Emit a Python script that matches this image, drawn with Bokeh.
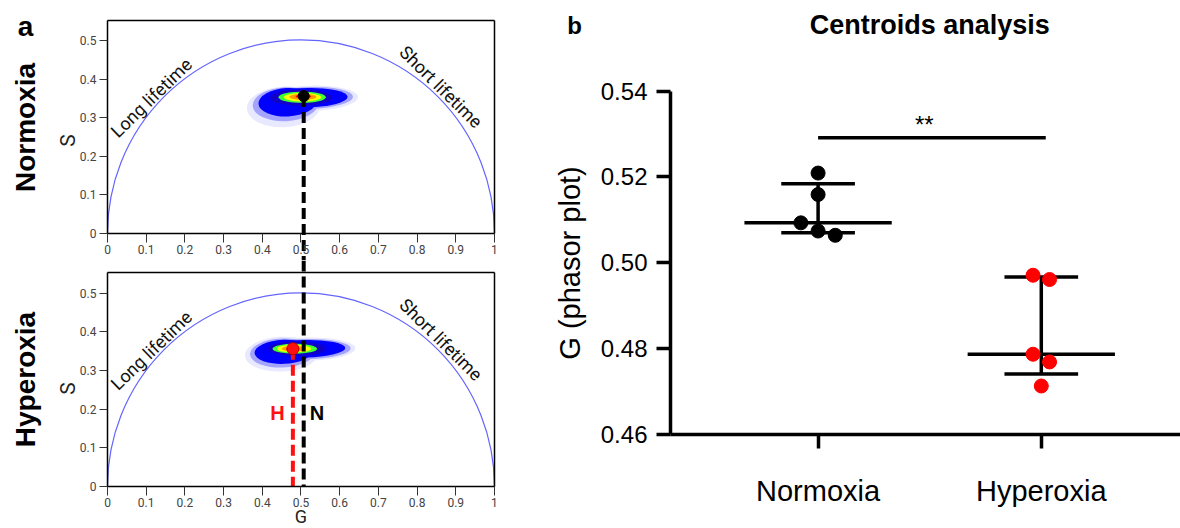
import math
from bokeh.plotting import figure
from bokeh.layouts import row, column
from bokeh.models import Label, FixedTicker, ColumnDataSource, LinearAxis, Range1d, NumeralTickFormatter
from bokeh.embed import file_html
from bokeh.resources import INLINE

# ---------------- Panel a: phasor plots ----------------
phasor_x_ticks = [0, 0.1, 0.2, 0.3, 0.4, 0.5, 0.6, 0.7, 0.8, 0.9, 1]
phasor_y_ticks = [0, 0.1, 0.2, 0.3, 0.4, 0.5]
phasor_tick_overrides = {0: "0", 1: "1"}
phasor_g_bounds = (0, 1)
phasor_s_bounds = (0, 0.552)
condition_names = ["Normoxia", "Hyperoxia"]
centroid_normoxia = [0.507, 0.356]   # (G, S)
centroid_hyperoxia = [0.479, 0.356]  # (G, S)

# density cloud, drawn as nested contour layers (outer -> inner)
blob_colors = ["#e8e8ff", "#e8e8ff", "#a4a4ff", "#a4a4ff", "#0000ff", "#0000ff",
               "#1000c8", "#40ff30", "#ffff00", "#ff9a00", "#ff0000"]
norm_blob_g = [0.455, 0.525, 0.460, 0.522, 0.465, 0.518, 0.500, 0.503, 0.504, 0.505, 0.506]
norm_blob_s = [0.328, 0.350, 0.335, 0.351, 0.340, 0.352, 0.352, 0.353, 0.353, 0.354, 0.355]
norm_blob_w = [0.190, 0.245, 0.170, 0.225, 0.150, 0.205, 0.160, 0.122, 0.096, 0.070, 0.040]
norm_blob_h = [0.105, 0.066, 0.088, 0.057, 0.074, 0.050, 0.042, 0.029, 0.022, 0.016, 0.010]
norm_blob_angle = [0.05, 0.03, 0.05, 0.03, 0.05, 0.02, 0.0, 0.0, 0.0, 0.0, 0.0]

hyper_blob_g = [0.450, 0.518, 0.452, 0.516, 0.455, 0.512, 0.490, 0.484, 0.482, 0.481, 0.479]
hyper_blob_s = [0.342, 0.355, 0.345, 0.355, 0.348, 0.356, 0.356, 0.356, 0.356, 0.356, 0.356]
hyper_blob_w = [0.190, 0.245, 0.168, 0.225, 0.150, 0.205, 0.150, 0.115, 0.088, 0.062, 0.034]
hyper_blob_h = [0.090, 0.060, 0.075, 0.052, 0.062, 0.045, 0.036, 0.026, 0.020, 0.014, 0.009]
hyper_blob_angle = [0.04, 0.02, 0.04, 0.02, 0.04, 0.02, 0.0, 0.0, 0.0, 0.0, 0.0]

# ---------------- Panel b: centroids ----------------
groups = ["Normoxia", "Hyperoxia"]
group_pos = [1, 2]
normoxia_g = [0.5209, 0.5159, 0.5093, 0.5074, 0.5064]
hyperoxia_g = [0.4971, 0.4961, 0.4787, 0.4769, 0.4713]
normoxia_jitter = [0.0, 0.0, -0.077, 0.0, 0.077]
hyperoxia_jitter = [-0.037, 0.037, -0.037, 0.037, 0.0]
medians = [0.5093, 0.4787]
q1 = [0.5070, 0.4741]
q3 = [0.5184, 0.4967]
b_y_ticks = [0.46, 0.48, 0.50, 0.52, 0.54]
b_y_bounds = (0.46, 0.54)
sig_text = "**"
sig_level = 0.5291

TICK_FONT = "Roboto"
ARIAL = "Liberation Sans"

# view windows (frame = whole canvas; axes placed with fixed_location)
PA_X_RANGE = (-0.2765, 1.1189)
TOP_Y_RANGE = (-0.0699, 0.6036)
BOT_Y_RANGE = (-0.1085, 0.5840)


def edge_axis(p, side, loc, bounds):
    ax = LinearAxis(fixed_location=loc, bounds=bounds, ticker=FixedTicker(ticks=[]),
                    axis_line_color="black", axis_line_width=1.5,
                    major_tick_line_color=None, minor_tick_line_color=None,
                    major_label_text_font_size="0px")
    p.add_layout(ax, side)


def phasor_figure(height, y_range, blob, side_label, side_y, s_label_y):
    p = figure(width=540, height=height, x_range=Range1d(*PA_X_RANGE),
               y_range=Range1d(*y_range), output_backend="svg", toolbar_location=None,
               min_border=0, min_border_left=0, min_border_right=0,
               min_border_top=0, min_border_bottom=0)
    p.grid.visible = False
    p.outline_line_color = None
    p.xaxis.ticker = FixedTicker(ticks=phasor_x_ticks)
    p.yaxis.ticker = FixedTicker(ticks=phasor_y_ticks)
    p.xaxis.fixed_location = phasor_s_bounds[0]
    p.yaxis.fixed_location = phasor_g_bounds[0]
    p.xaxis.bounds = phasor_g_bounds
    p.yaxis.bounds = phasor_s_bounds
    for ax in (p.xaxis[0], p.yaxis[0]):
        ax.major_label_overrides = phasor_tick_overrides
        ax.major_label_text_font = TICK_FONT
        ax.major_label_text_font_size = "12px"
        ax.major_label_text_color = "#444444"
        ax.axis_line_color = "black"
        ax.axis_line_width = 1.5
        ax.major_tick_line_color = "#333333"
        ax.major_tick_line_width = 1
        ax.major_tick_in = 0
        ax.minor_tick_line_color = None
    p.xaxis.major_tick_out = 9
    p.xaxis.major_label_standoff = 2
    p.yaxis.major_tick_out = 8
    p.yaxis.major_label_standoff = 3
    edge_axis(p, "right", phasor_g_bounds[1], phasor_s_bounds)
    edge_axis(p, "above", phasor_s_bounds[1], phasor_g_bounds)

    bg, bs, bw, bh, ba = blob
    src = ColumnDataSource(dict(x=bg, y=bs, w=bw, h=bh, a=ba, c=blob_colors))
    p.ellipse(x="x", y="y", width="w", height="h", angle="a", fill_color="c",
              line_color=None, source=src)

    p.arc(x=[0.5], y=[0], radius=0.5, start_angle=0, end_angle=math.pi,
          line_color="#6464ff", line_width=1.2)

    p.add_layout(Label(x=0.113, y=0.352, text="Long lifetime", angle=0.77,
                       text_align="center", text_baseline="middle",
                       text_font=TICK_FONT, text_font_size="18px",
                       text_color="#111111"))
    p.add_layout(Label(x=0.862, y=0.380, text="Short lifetime", angle=-0.78,
                       text_align="center", text_baseline="middle",
                       text_font=TICK_FONT, text_font_size="18px",
                       text_color="#111111"))
    p.add_layout(Label(x=-0.212, y=side_y, text=side_label, angle=math.pi / 2,
                       text_align="center", text_baseline="middle",
                       text_font=ARIAL, text_font_style="bold",
                       text_font_size="28px", text_color="black"))
    p.add_layout(Label(x=-0.103, y=s_label_y, text="S", angle=math.pi / 2,
                       text_align="center", text_baseline="middle",
                       text_font=TICK_FONT, text_font_size="21px",
                       text_color="#222222"))
    return p


top = phasor_figure(260, TOP_Y_RANGE,
                    (norm_blob_g, norm_blob_s, norm_blob_w, norm_blob_h, norm_blob_angle),
                    condition_names[0], 0.2746, 0.241)
top.add_layout(Label(x=-0.212, y=0.535, text="a", text_align="center",
                     text_baseline="middle", text_font=ARIAL,
                     text_font_style="bold", text_font_size="28px", text_color="black"))
top.segment(x0=[centroid_normoxia[0]], y0=[centroid_normoxia[1]],
            x1=[centroid_normoxia[0]], y1=[TOP_Y_RANGE[0]],
            line_color="black", line_width=4, line_dash="11 5")
top.scatter(x=[centroid_normoxia[0]], y=[centroid_normoxia[1]], size=11,
            fill_color="black", line_color="black")

bottom = phasor_figure(268, BOT_Y_RANGE,
                       (hyper_blob_g, hyper_blob_s, hyper_blob_w, hyper_blob_h, hyper_blob_angle),
                       condition_names[1], 0.2765, 0.253)
bottom.segment(x0=[centroid_normoxia[0]], y0=[BOT_Y_RANGE[1]],
               x1=[centroid_normoxia[0]], y1=[0],
               line_color="black", line_width=4, line_dash="11 5")
bottom.segment(x0=[centroid_hyperoxia[0]], y0=[centroid_hyperoxia[1]],
               x1=[centroid_hyperoxia[0]], y1=[0], line_color="#ff1010",
               line_width=4, line_dash="11 5")
bottom.scatter(x=[centroid_hyperoxia[0]], y=[centroid_hyperoxia[1]], size=12,
               fill_color="#ff1010", line_color="#c00000", line_width=1)
bottom.add_layout(Label(x=0.439, y=0.191, text="H", text_align="center",
                        text_baseline="middle", text_font=ARIAL,
                        text_font_style="bold", text_font_size="20px",
                        text_color="#ff1010"))
bottom.add_layout(Label(x=0.541, y=0.191, text="N", text_align="center",
                        text_baseline="middle", text_font=ARIAL,
                        text_font_style="bold", text_font_size="20px",
                        text_color="black"))
bottom.add_layout(Label(x=0.5, y=-0.078, text="G", text_align="center",
                        text_baseline="middle", text_font=TICK_FONT,
                        text_font_size="18px", text_color="#222222"))

# ---------------- Panel b figure ----------------
PB_X_RANGE = (-0.2437, 2.6237)
PB_Y_RANGE = (0.4381, 0.5611)
PB_AXIS_X = 0.3387

pb = figure(width=640, height=528, x_range=Range1d(*PB_X_RANGE), y_range=Range1d(*PB_Y_RANGE),
            output_backend="svg", toolbar_location=None,
            min_border=0, min_border_left=0, min_border_right=0,
            min_border_top=0, min_border_bottom=0)
pb.grid.visible = False
pb.outline_line_color = None
pb.xaxis.ticker = FixedTicker(ticks=group_pos)
pb.xaxis.major_label_overrides = {pos: name for pos, name in zip(group_pos, groups)}
pb.yaxis.ticker = FixedTicker(ticks=b_y_ticks)
pb.yaxis.formatter = NumeralTickFormatter(format="0.00")
pb.xaxis.fixed_location = b_y_bounds[0]
pb.xaxis.bounds = (PB_AXIS_X, PB_X_RANGE[1])
pb.yaxis.fixed_location = PB_AXIS_X
pb.yaxis.bounds = b_y_bounds
for ax in (pb.xaxis[0], pb.yaxis[0]):
    ax.axis_line_width = 3.5
    ax.axis_line_color = "black"
    ax.major_tick_line_width = 3.5
    ax.major_tick_line_color = "black"
    ax.major_tick_in = 0
    ax.major_tick_out = 14
    ax.minor_tick_line_color = None
    ax.major_label_text_font = ARIAL
    ax.major_label_text_color = "black"
pb.yaxis.major_label_text_font_size = "24px"
pb.yaxis.major_label_standoff = 9
pb.xaxis.major_label_text_font_size = "29px"
pb.xaxis.major_label_standoff = 27
pb.yaxis.axis_label = "G (phasor plot)"
pb.yaxis.axis_label_text_font = ARIAL
pb.yaxis.axis_label_text_font_size = "29px"
pb.yaxis.axis_label_text_font_style = "normal"
pb.yaxis.axis_label_text_color = "black"
pb.yaxis.axis_label_standoff = 12

# median lines and interquartile bars
pb.segment(x0=[g - 0.33 for g in group_pos], x1=[g + 0.33 for g in group_pos],
           y0=medians, y1=medians, line_color="black", line_width=3.5)
pb.segment(x0=group_pos, x1=group_pos, y0=q1, y1=q3, line_color="black", line_width=3.5)
pb.segment(x0=[g - 0.165 for g in group_pos], x1=[g + 0.165 for g in group_pos],
           y0=q1, y1=q1, line_color="black", line_width=3.5)
pb.segment(x0=[g - 0.165 for g in group_pos], x1=[g + 0.165 for g in group_pos],
           y0=q3, y1=q3, line_color="black", line_width=3.5)

pb.scatter(x=[group_pos[0] + j for j in normoxia_jitter], y=normoxia_g, size=14,
           fill_color="black", line_color="black")
pb.scatter(x=[group_pos[1] + j for j in hyperoxia_jitter], y=hyperoxia_g, size=14,
           fill_color="#ff0000", line_color="#ff0000")

# significance bar
pb.segment(x0=[group_pos[0]], x1=[group_pos[1] + 0.02], y0=[sig_level], y1=[sig_level],
           line_color="black", line_width=3.5)
pb.add_layout(Label(x=1.476, y=0.5322, text=sig_text, text_align="center",
                    text_baseline="middle", text_font=ARIAL,
                    text_font_size="24px", text_color="black"))
pb.add_layout(Label(x=1.5, y=0.5555, text="Centroids analysis", text_align="center",
                    text_baseline="middle", text_font=ARIAL,
                    text_font_style="bold", text_font_size="27px", text_color="black"))
pb.add_layout(Label(x=-0.0914, y=0.5553, text="b", text_align="center",
                    text_baseline="middle", text_font=ARIAL,
                    text_font_style="bold", text_font_size="24px", text_color="black"))

layout = row(column(top, bottom), pb)
open("out.html", "w").write(file_html(layout, INLINE))
